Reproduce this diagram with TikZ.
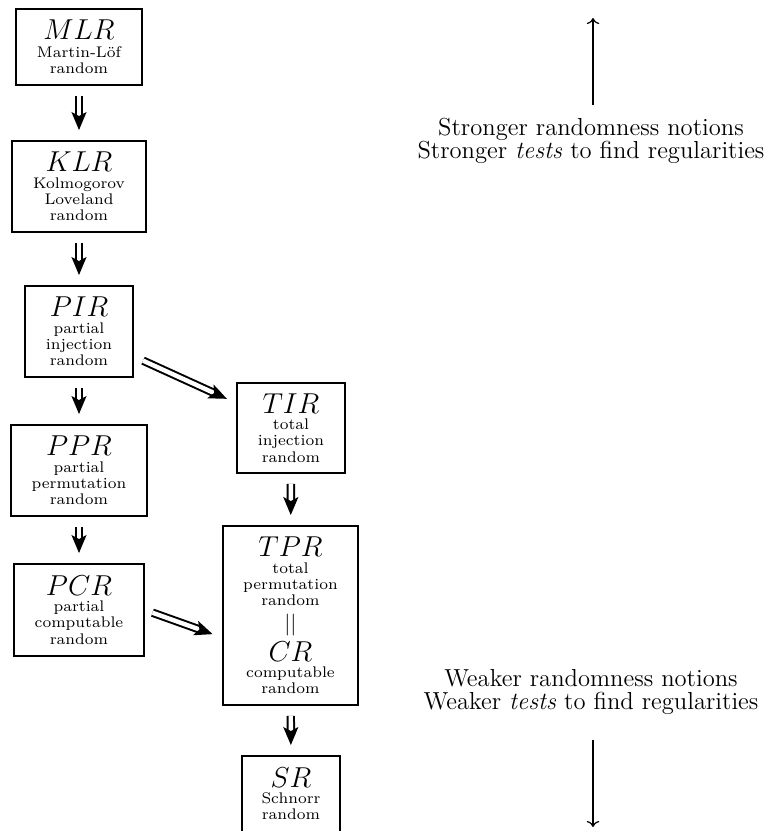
\documentclass[tikz,border=0pt]{standalone}
\usetikzlibrary{arrows.meta,decorations.markings}
\DeclareFontFamily{TU}{lmsub}{}
\DeclareFontShape{TU}{lmsub}{m}{n}{<-> \UnicodeFontFile{lmroman7-regular}{\UnicodeFontTeXLigatures}}{}
\newcommand\nttl[1]{{\fontsize{15}{15}\selectfont$#1$}}
\begin{document}
\begin{tikzpicture}[x=0.5pt,y=-0.5pt,
  box/.style={draw, line width=0.95pt, inner sep=0pt, align=center, font=\fontfamily{lmsub}\fontsize{7.7}{8.1}\selectfont},
  dbl/.style={double, double distance=2.2pt, line width=1pt, shorten <=5pt, shorten >=10pt,
     postaction={decorate, decoration={markings, mark=at position -5pt with {\arrow[line width=0.8pt]{Stealth[length=9pt,width=7.5pt,inset=2pt]}}}}},
  thinarrow/.style={line width=0.6pt, -{To[length=3pt]}},
  note/.style={align=center, font=\fontsize{12.3}{11.4}\selectfont}]
\useasboundingbox (0,0) rectangle (770,831);

\node[box, minimum width=63pt, minimum height=38pt] (MLR) at (79,47) {\nttl{MLR}\\[1pt]Martin-Löf\\random};
\node[box, minimum width=67pt, minimum height=45.5pt] (KLR) at (79,186.5) {\nttl{KLR}\\Kolmogorov\\Loveland\\random};
\node[box, minimum width=54pt, minimum height=45.5pt] (PIR) at (79,331.5) {\nttl{PIR}\\partial\\injection\\random};
\node[box, minimum width=68pt, minimum height=45.5pt] (PPR) at (79,470.5) {\nttl{PPR}\\partial\\permutation\\random};
\node[box, minimum width=65pt, minimum height=46pt] (PCR) at (79,610) {\nttl{PCR}\\partial\\computable\\random};
\node[box, minimum width=54pt, minimum height=45pt] (TIR) at (291,428) {\nttl{TIR}\\total\\injection\\random};
\node[box, minimum width=67.5pt, minimum height=89.5pt] (TPR) at (290.5,615.5) {\nttl{TPR}\\total\\permutation\\random\\[3pt]{\fontsize{10.5}{10.5}\selectfont$||$}\\[2pt]\nttl{CR}\\computable\\random};
\node[box, minimum width=49pt, minimum height=38pt] (SR) at (291,794) {\nttl{SR}\\Schnorr\\random};

\draw[dbl] (MLR) -- (KLR);
\draw[dbl] (KLR) -- (PIR);
\draw[dbl] (PIR) -- (PPR);
\draw[dbl] (PPR) -- (PCR);
\draw[dbl] (PIR) -- (TIR);
\draw[dbl] (TIR) -- (TPR);
\draw[dbl] (TPR) -- (SR);
\draw[dbl, shorten <=4pt] (PCR.east) -- ([yshift=-11pt]TPR.west);

\node[note] (strong) at (591,141) {Stronger randomness notions\\Stronger \textit{tests} to find regularities};
\coordinate (uptip) at (593,18);
\draw[thinarrow, shorten <=3pt] (strong.north -| uptip) -- (uptip);

\node[note] (weak) at (591,692) {Weaker randomness notions\\Weaker \textit{tests} to find regularities};
\coordinate (downtip) at (593,827);
\draw[thinarrow, shorten <=9pt] (weak.south -| downtip) -- (downtip);
\end{tikzpicture}
\end{document}
